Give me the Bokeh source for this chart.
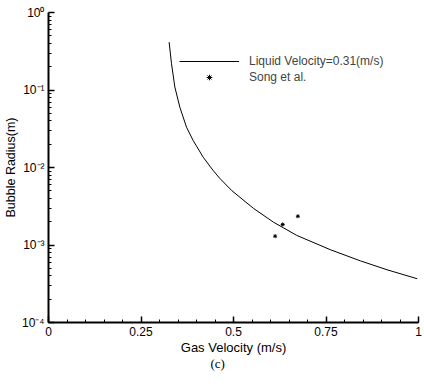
from bokeh.plotting import figure
from bokeh.models import Legend, LegendItem, FixedTicker, Title, Range1d
from bokeh.embed import file_html
from bokeh.resources import INLINE

# Model curve: Liquid Velocity = 0.31 (m/s)
gas_velocity = [0.326, 0.3325, 0.3415, 0.355, 0.373, 0.391, 0.418, 0.445, 0.463,
                0.495, 0.554, 0.608, 0.671, 0.7615, 0.843, 0.915, 0.9965]
bubble_radius = [0.414, 0.218, 0.109, 0.060, 0.0331, 0.0223, 0.0136, 0.00915, 0.00724,
                 0.00505, 0.00297, 0.00197, 0.00133, 0.00087, 0.000624, 0.000479, 0.000367]

# Experimental data: Song et al.
song_velocity = [0.6125, 0.633, 0.674]
song_radius = [0.00130, 0.00184, 0.00235]

x_ticks = [0, 0.25, 0.5, 0.75, 1]
x_tick_labels = {0: "0", 0.25: "0.25", 0.5: "0.5", 0.75: "0.75", 1: "1"}
y_ticks = [1e-4, 1e-3, 1e-2, 1e-1, 1]
y_tick_labels = {1e-4: "10\u207b\u2074", 1e-3: "10\u207b\u00b3", 1e-2: "10\u207b\u00b2",
                 1e-1: "10\u207b\u00b9", 1: "10\u2070"}

p = figure(width=424, height=385, y_axis_type="log", output_backend="svg",
           toolbar_location=None, x_range=Range1d(0, 1), y_range=Range1d(1e-4, 1),
           min_border_left=30, min_border_right=6, min_border_top=12, min_border_bottom=63)
p.outline_line_color = None
p.xgrid.visible = False
p.ygrid.visible = False
p.background_fill_color = "white"

FONT = "Liberation Sans"

line_r = p.line(gas_velocity, bubble_radius, line_color="black", line_width=1)
pts_r = p.scatter(song_velocity, song_radius, marker="asterisk", size=4,
                  line_color="black", line_width=1)

for ax in (p.xaxis[0], p.yaxis[0]):
    ax.axis_line_width = 2
    ax.axis_line_color = "black"
    ax.major_tick_in = 6
    ax.major_tick_out = 0
    ax.minor_tick_in = 3
    ax.minor_tick_out = 0
    ax.major_tick_line_width = 1.5
    ax.major_label_text_font = FONT
    ax.major_label_text_font_size = "12px"
    ax.major_label_text_color = "black"
    ax.axis_label_text_font = FONT
    ax.axis_label_text_font_style = "normal"
    ax.axis_label_text_color = "black"

p.xaxis.ticker = FixedTicker(ticks=x_ticks,
                             minor_ticks=[i * 0.05 for i in range(21)])
p.xaxis.major_label_overrides = x_tick_labels
p.xaxis.axis_label = "Gas Velocity (m/s)"
p.xaxis.axis_label_text_font_size = "13px"
p.xaxis.axis_label_standoff = 1
p.xaxis.major_label_standoff = 4

minor_y = []
for d in [1e-4, 1e-3, 1e-2, 1e-1]:
    for k in range(2, 10):
        minor_y.append(d * k)
p.yaxis.ticker = FixedTicker(ticks=y_ticks, minor_ticks=minor_y)
p.yaxis.major_label_overrides = y_tick_labels
p.yaxis.axis_label = "Bubble Radius(m)"
p.yaxis.axis_label_text_font_size = "12.5px"
p.yaxis.axis_label_standoff = 1
p.yaxis.major_label_standoff = 4

legend = Legend(items=[LegendItem(label="Liquid Velocity=0.31(m/s)", renderers=[line_r]),
                       LegendItem(label="Song et al.", renderers=[pts_r])],
                location=(131, 238), border_line_color=None,
                background_fill_alpha=0, label_text_font=FONT,
                label_text_font_size="12px", glyph_width=60, glyph_height=14,
                label_height=14, spacing=2, padding=0, margin=0,
                label_standoff=10)
p.add_layout(legend)

p.add_layout(Title(text="(c)", align="left", offset=162, text_font="Liberation Serif",
                   text_font_size="13px", text_font_style="normal",
                   vertical_align="top", text_color="black", standoff=-4), "below")

open("out.html", "w").write(file_html(p, INLINE))
